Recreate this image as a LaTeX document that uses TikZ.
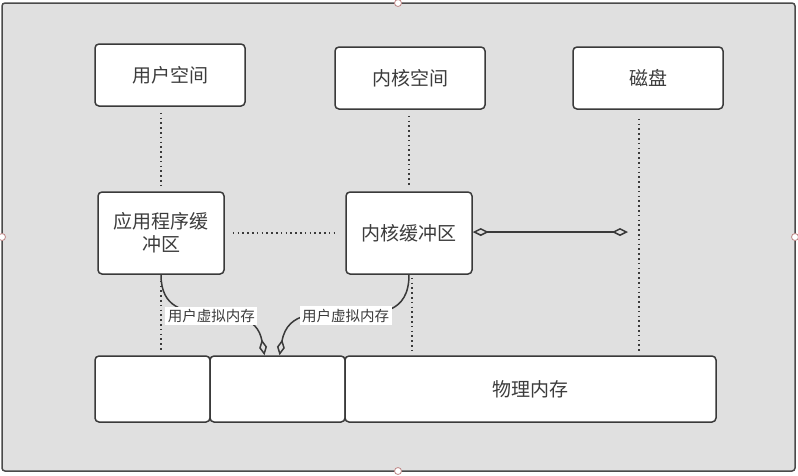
\documentclass[tikz,border=0pt]{standalone}
\usepackage{fontspec}
\newfontfamily\cjk{Noto Sans CJK SC}
\usetikzlibrary{arrows.meta}
\definecolor{framegray}{HTML}{E0E0E0}
\definecolor{framedark}{HTML}{4A4A4A}
\definecolor{boxline}{HTML}{3A3A3A}
\definecolor{txt}{HTML}{3C3C3C}
\definecolor{handle}{HTML}{C08888}
\tikzset{
  box/.style={draw=boxline, fill=white, line width=1.5pt, rounded corners=4pt,
    font=\cjk\fontsize{19}{23}\selectfont, text=txt, align=center, inner sep=0pt},
  dotline/.style={draw=boxline, line width=1.6pt, dash pattern=on 1.6pt off 3.2pt},
  link/.style={draw=boxline, line width=1.5pt},
  lbl/.style={fill=white, font=\cjk\fontsize{14.5}{17}\selectfont, text=txt, inner sep=2.5pt},
  dtip/.style={-{Diamond[open, length=16pt, width=8pt, line width=1.5pt]}},
  hnd/.style={draw=handle, fill=white, line width=0.8pt, circle, minimum size=7pt, inner sep=0pt}
}
\begin{document}
\begin{tikzpicture}[x=1pt, y=-1pt]
\useasboundingbox (0,0) rectangle (798,475);
\fill[white] (0,0) rectangle (798,475);
\draw[fill=framegray, draw=framedark, line width=1.5pt, rounded corners=3pt] (2,3) rectangle (795,471);

\node[box, minimum width=150pt, minimum height=62pt] (us) at (170,75) {用户空间};
\node[box, minimum width=150pt, minimum height=62pt] (ks) at (410,78) {内核空间};
\node[box, minimum width=150pt, minimum height=62pt] (disk) at (648,78) {磁盘};
\node[box, minimum width=126pt, minimum height=82pt] (ab) at (161,233) {应用程序缓\\冲区};
\node[box, minimum width=126pt, minimum height=82pt] (kb) at (409,233) {内核缓冲区};
\node[box, minimum width=115pt, minimum height=66pt] (m1) at (152.5,389) {};
\node[box, minimum width=135pt, minimum height=66pt] (m2) at (277.5,389) {};
\node[box, minimum width=371pt, minimum height=66pt] (m3) at (530.5,389) {物理内存};

% dotted guide lines
\draw[dotline, shorten <=6pt, shorten >=4pt] (ab.north |- us.south) -- (ab.north);
\draw[dotline, shorten <=6pt, shorten >=3pt] (ab.south) -- (ab.south |- m1.north);
\draw[dotline, shorten <=6pt, shorten >=4pt] (kb.north |- ks.south) -- (kb.north);
\draw[dotline, shorten <=3pt, shorten >=3pt] ([xshift=3pt]kb.south) -- ([xshift=3pt]kb.south |- m3.north);
\coordinate (dk) at ([xshift=-9pt]disk.south);
\draw[dotline, shorten <=9pt, shorten >=3pt] (dk) -- (dk |- m3.north);
\draw[dotline, shorten <=8pt, shorten >=8pt] (ab.east) -- (kb.west);

% diamond link kernel buffer - disk
\coordinate (dd) at (628,232);
\draw[link, {Diamond[open, length=16pt, width=8pt, line width=1.5pt]}-{Diamond[open, length=16pt, width=8pt, line width=1.5pt]}] (kb.east |- dd) -- (dd);

% curved links to physical memory
\coordinate (t1) at ([xshift=-13pt]m2.north);
\coordinate (t2) at ([xshift=2pt]m2.north);
\draw[link, dtip] (ab.south) to[out=-90, in=100, looseness=1.3] node[lbl, pos=0.52] {用户虚拟内存} (t1);
\draw[link, dtip] (kb.south) to[out=-90, in=80, looseness=1.3] node[lbl, pos=0.52] {用户虚拟内存} (t2);

% selection handles
\node[hnd] (h1) at (398,3) {};
\node[hnd] (h2) at (2,237) {};
\node[hnd] (h3) at (795,237) {};
\node[hnd] (h4) at (398,471) {};
\end{tikzpicture}
\end{document}
